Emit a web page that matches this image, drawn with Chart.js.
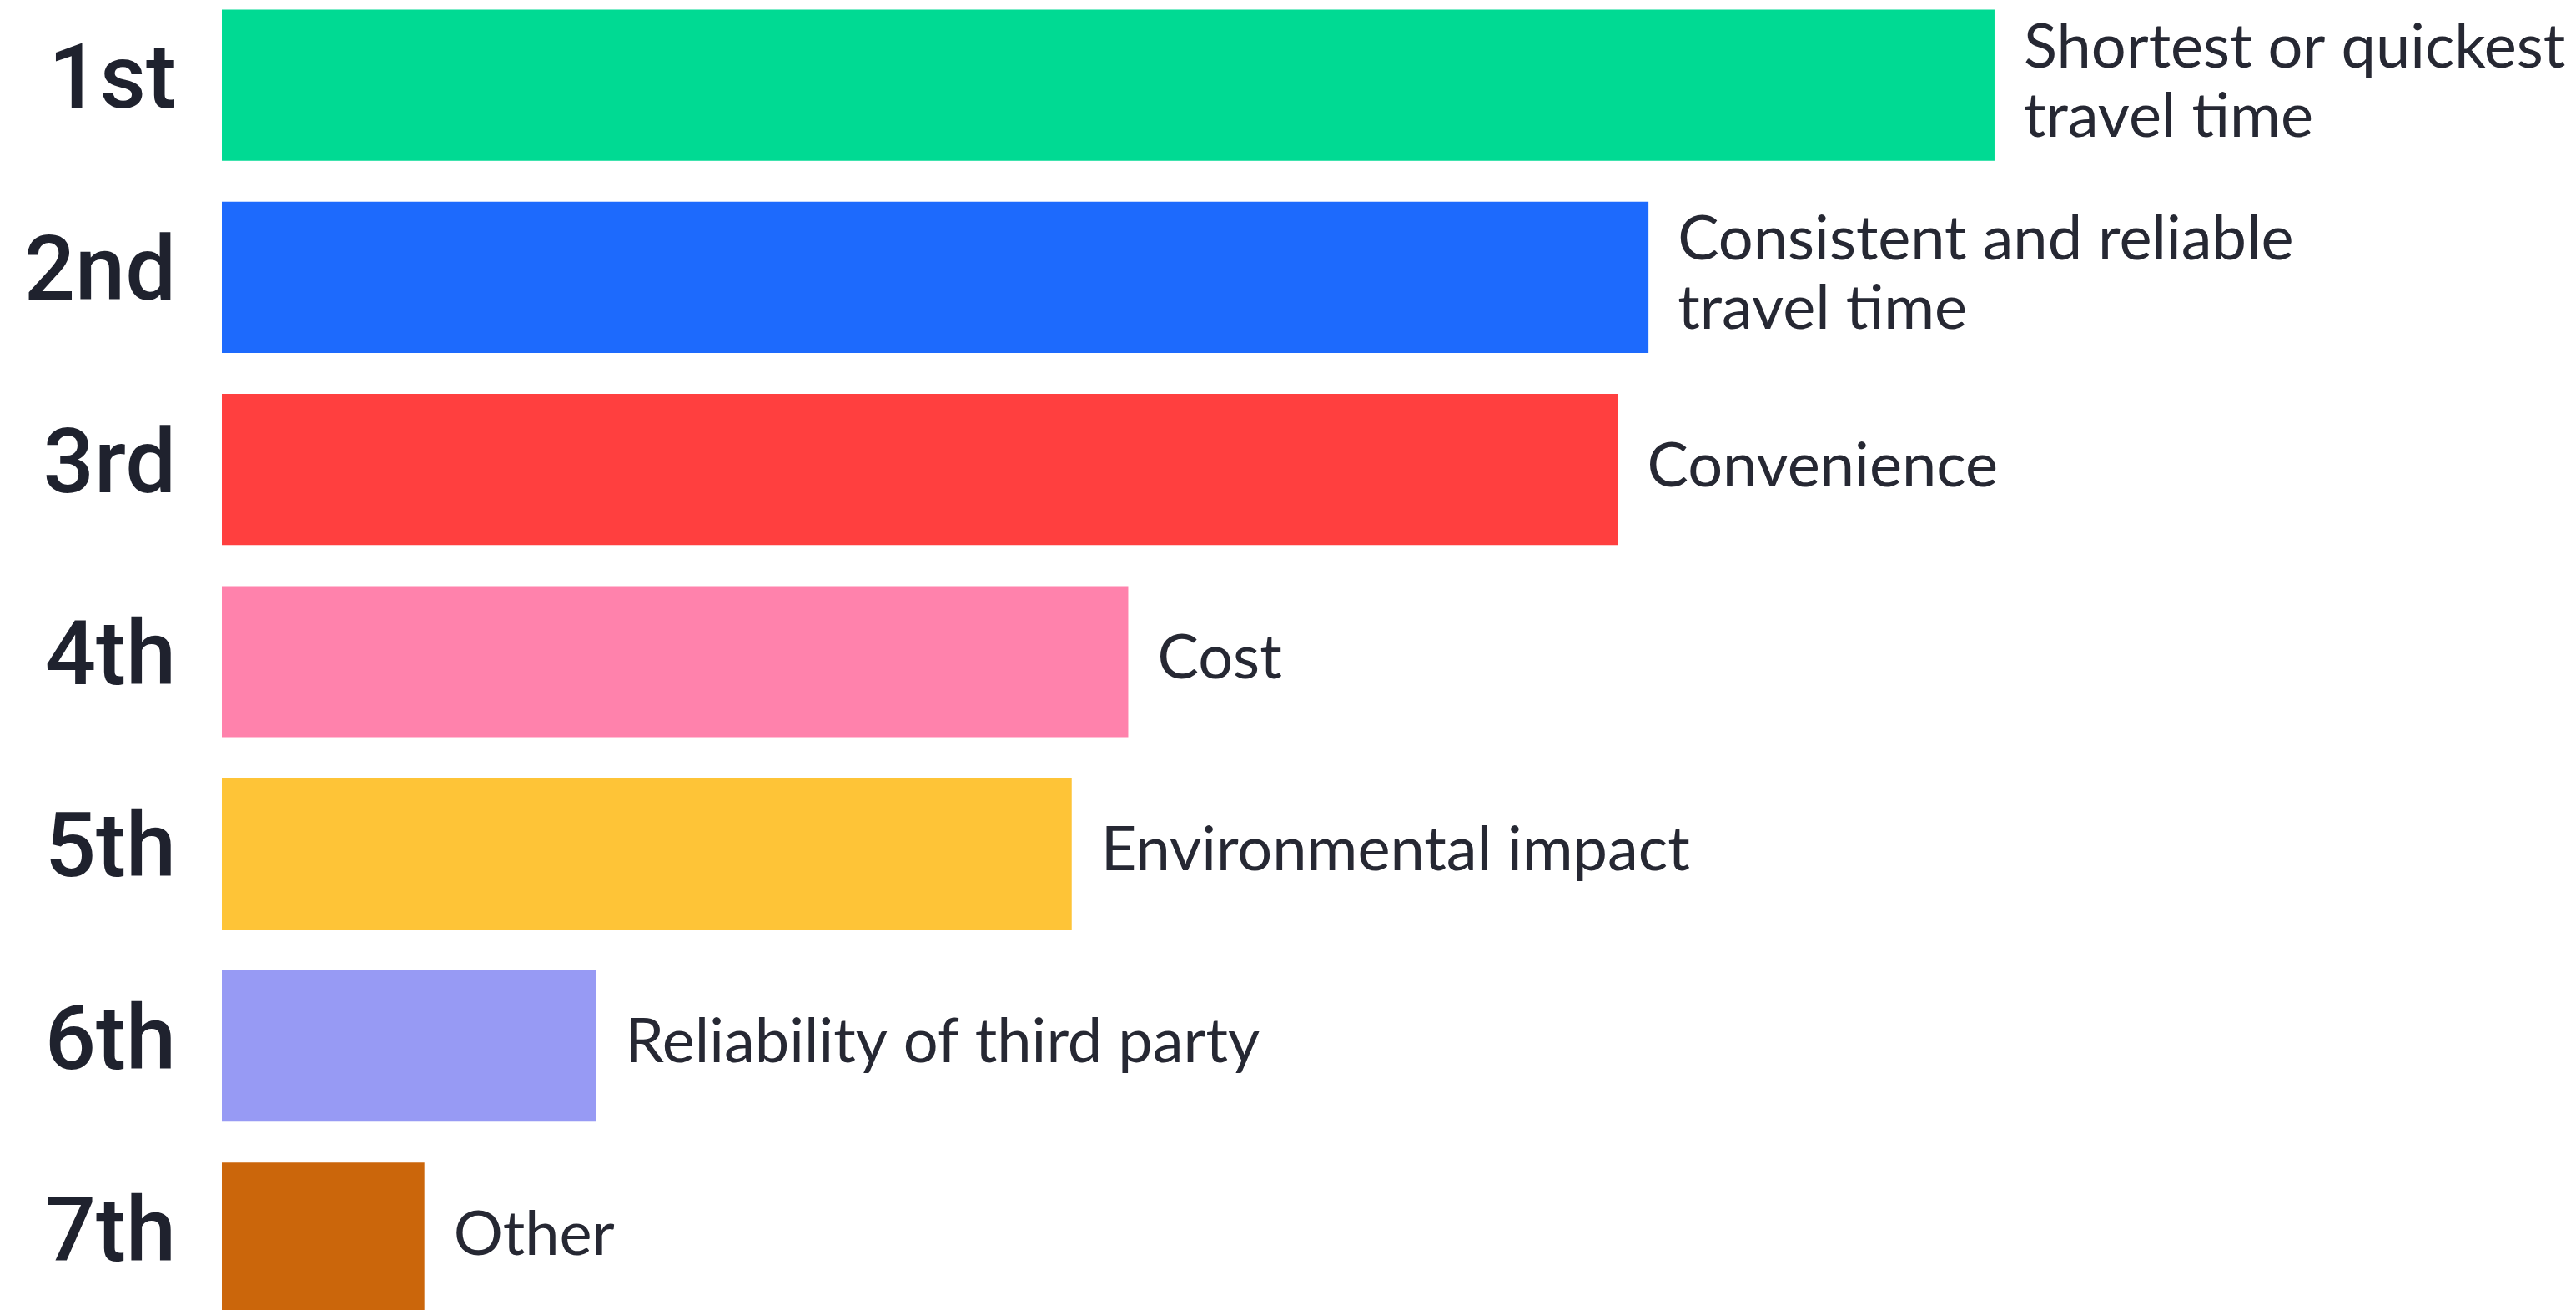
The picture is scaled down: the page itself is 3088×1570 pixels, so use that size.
<!DOCTYPE html>
<html>
<head>
<meta charset="utf-8">
<script src="https://cdn.jsdelivr.net/npm/chart.js@4/dist/chart.umd.min.js"></script>
<style>
  html, body { margin: 0; padding: 0; background: #ffffff; overflow: hidden; }
  #wrap { position: absolute; left: 0; top: -13px; width: 3088px; height: 1612px; }
</style>
</head>
<body>
<div id="wrap"><canvas id="rankChart" width="3088" height="1612"></canvas></div>
<script>
var ranks = ['1st', '2nd', '3rd', '4th', '5th', '6th', '7th'];
var factors = [
  ['Shortest or quickest', 'travel time'],
  ['Consistent and reliable', 'travel time'],
  ['Convenience'],
  ['Cost'],
  ['Environmental impact'],
  ['Reliability of third party'],
  ['Other']
];
var scores = [75.3, 60.6, 59.3, 38.5, 36.1, 15.9, 8.6];
var barColours = ['#00da93', '#1d6afd', '#ff3f3f', '#ff82ac', '#fec437', '#979af4', '#cb660b'];

var textColour = '#262833';

// writes the factor name just past the end of each bar
var factorLabels = {
  id: 'factorLabels',
  afterDatasetsDraw: function(chart){
    var ctx = chart.ctx;
    var meta = chart.getDatasetMeta(0);
    var lineH = 83;
    ctx.save();
    ctx.fillStyle = textColour;
    ctx.font = '400 74px Lato';
    ctx.textAlign = 'left';
    ctx.textBaseline = 'middle';
    meta.data.forEach(function(bar, i){
      var lines = factors[i];
      var y0 = bar.y - (lines.length - 1) * lineH / 2 - 4;
      for(var j = 0; j < lines.length; j++){
        ctx.fillText(lines[j], bar.x + 35, y0 + j * lineH);
      }
    });
    ctx.restore();
  }
};

var ctx = document.getElementById('rankChart');

var rankChart = new Chart(ctx, {
  type: 'bar',
  data: {
    labels: ranks,
    datasets: [
      {
        data: scores,
        backgroundColor: barColours,
        borderWidth: 0,
        barPercentage: 0.787,
        categoryPercentage: 1
      }
    ]
  },
  options: {
    indexAxis: 'y',
    responsive: false,
    animation: false,
    layout: { padding: 0 },
    plugins: {
      legend: { display: false },
      tooltip: { enabled: false }
    },
    scales: {
      x: {
        display: false,
        min: 0,
        max: 100
      },
      y: {
        grid: { display: false, drawTicks: false },
        border: { display: false },
        afterFit: function(scale){
          scale.width = 266;
          scale.paddingTop = 0;
          scale.paddingBottom = 0;
        },
        ticks: {
          padding: 55,
          color: '#1f222e',
          font: { family: 'Roboto', weight: '500', size: 108 }
        }
      }
    }
  },
  plugins: [factorLabels]
});
</script>
</body>
</html>
